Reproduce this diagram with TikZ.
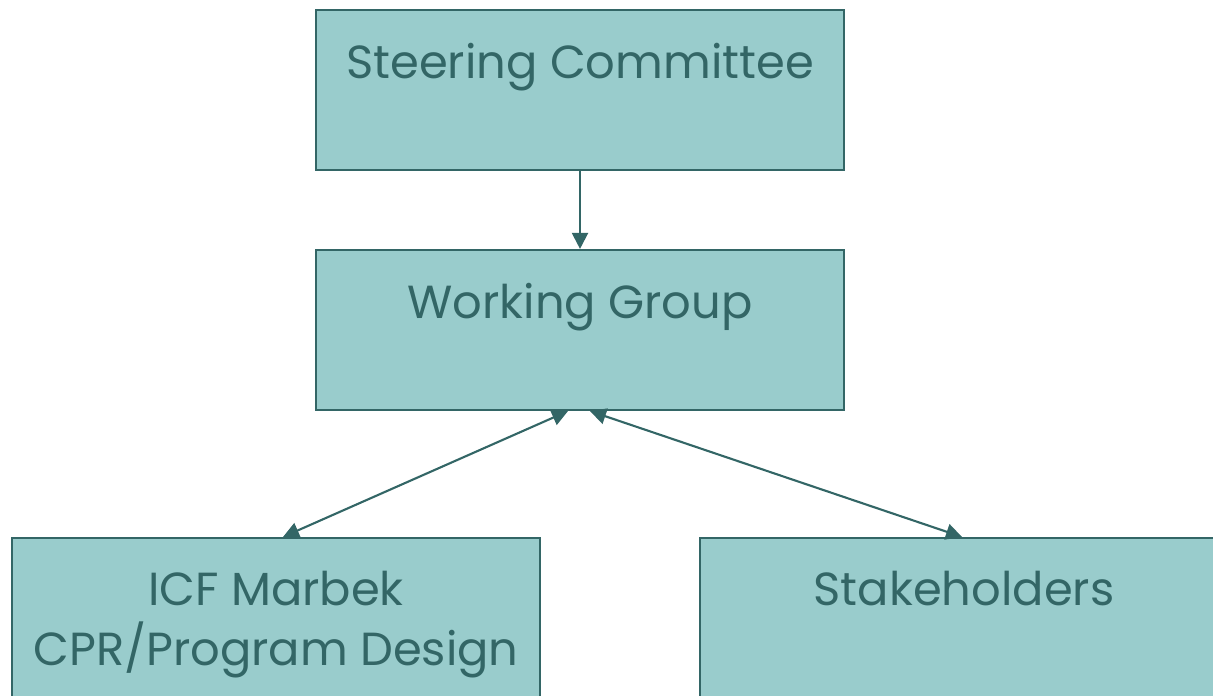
\documentclass[tikz,border=0pt]{standalone}
\usepackage{fontspec}
\setmainfont{Poppins}
\usepackage{xcolor}
\usetikzlibrary{shapes.geometric, arrows.meta, positioning}
\definecolor{boxfill}{HTML}{99CCCC}
\definecolor{boxline}{HTML}{336666}
\tikzset{
    orgbox/.style={rectangle, minimum width=5.28cm, minimum height=1.6cm, draw=boxline, fill=boxfill, line width=0.6pt},
    orgtext/.style={text=boxline, font=\fontsize{13.2}{17}\selectfont, align=center, inner sep=0pt},
    arrow/.style={draw=boxline, line width=0.6pt, -{Triangle[length=0.16cm, width=0.16cm]}},
    twoway/.style={draw=boxline, line width=0.6pt, {Triangle[length=0.16cm, width=0.16cm]}-{Triangle[length=0.16cm, width=0.16cm]}},
}
\begin{document}
\begin{tikzpicture}
    \useasboundingbox (0,0) rectangle (12.13,6.95);
    \clip (0,0) rectangle (12.13,6.95);
    % boxes
    \node[orgbox] (steer) at (5.80,6.05) {};
    \node[orgbox] (work) at (5.80,3.65) {};
    \node[orgbox, minimum height=2cm] (icf) at (2.76,0.57) {};
    \node[orgbox, minimum height=2cm] (stake) at (9.64,0.57) {};
    % texts
    \node[orgtext, below=0.34 of steer.north] (steertext) {Steering Committee};
    \node[orgtext, below=0.34 of work.north] (worktext) {Working Group};
    \node[orgtext, below=0.34 of icf.north] (icftext) {ICF Marbek\\CPR/Program Design};
    \node[orgtext, below=0.34 of stake.north] (staketext) {Stakeholders};
    % connectors
    \draw[arrow] (steer.south) -- (work.north);
    \draw[twoway] ([xshift=-0.12cm]work.south) -- ([xshift=0.07cm]icf.north);
    \draw[twoway] ([xshift=0.1cm]work.south) -- ([xshift=-0.02cm]stake.north);
\end{tikzpicture}
\end{document}
